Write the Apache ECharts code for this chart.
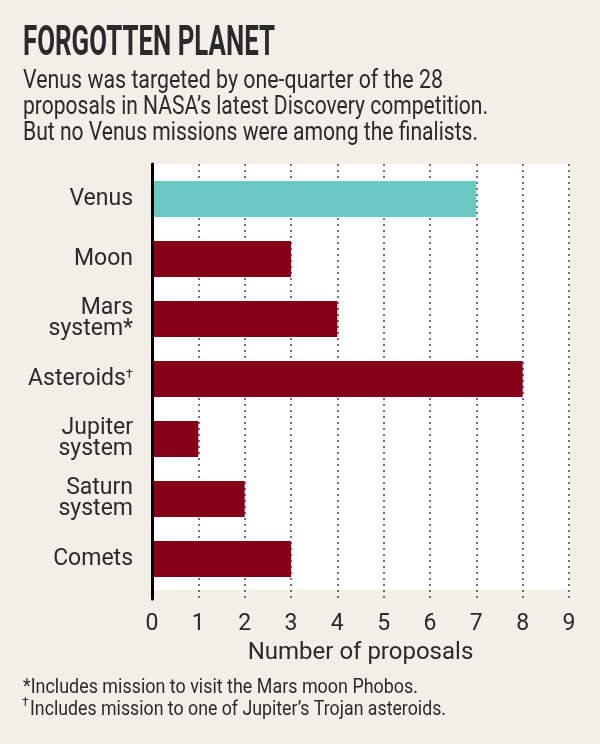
<!DOCTYPE html>
<html>
<head>
<meta charset="utf-8">
<script src="https://cdn.jsdelivr.net/npm/echarts@6/dist/echarts.min.js"></script>
<style>
    html, body { margin: 0; padding: 0; background: #f2efe8; }
    #chart { width: 600px; height: 744px; }
</style>
</head>
<body>
<div id="chart"></div>
<script>
const categories = ['Venus', 'Moon', 'Mars\nsystem*', 'Asteroids†', 'Jupiter\nsystem', 'Saturn\nsystem', 'Comets'];
const proposals = [7, 3, 4, 8, 1, 2, 3];
const xTicks = [0, 1, 2, 3, 4, 5, 6, 7, 8, 9];
const highlighted = 'Venus';

const TEAL = '#6bc7c2';
const RED = '#850019';
const TEXT = '#2a2a2a';

const chart = echarts.init(document.getElementById('chart'));

// squeeze a text line horizontally so it spans `width` px (the original uses a condensed face)
const ctx = document.createElement('canvas').getContext('2d');
function label(text, x, y, font, width) {
    ctx.font = font;
    const scaleX = width ? width / ctx.measureText(text).width : 1;
    return {
        type: 'text',
        x: x,
        y: y,
        scaleX: scaleX,
        style: {
            text: text,
            font: font,
            fill: TEXT,
            textAlign: 'left',
            textVerticalAlign: 'middle',
            align: 'left',
            verticalAlign: 'middle',
        },
    };
}

chart.setOption({
    backgroundColor: '#f2efe8',
    animation: false,
    graphic: [
        // white plot panel
        {
            type: 'rect',
            z: -100,
            shape: { x: 153, y: 164, width: 417, height: 426 },
            style: { fill: '#ffffff' },
        },
        label('FORGOTTEN PLANET', 23, 44, 'bold 42px Roboto', 252),
        label('Venus was targeted by one-quarter of the 28', 23, 81, '26px Roboto', 420),
        label('proposals in NASA\u2019s latest Discovery competition.', 23, 107, '26px Roboto', 465),
        label('But no Venus missions were among the finalists.', 23, 133, '26px Roboto', 455),
        label('*Includes mission to visit the Mars moon Phobos.', 23, 688, '21px Roboto', 395),
        label('\u2020', 22, 703, '12px Roboto'),
        label('Includes mission to one of Jupiter\u2019s Trojan asteroids.', 30, 710, '21px Roboto', 416),
    ],
    grid: [
        { left: 152, top: 169, width: 417, height: 420 },
        { left: 152, top: 164, width: 417, height: 435 },
    ],
    xAxis: [
        { gridIndex: 0, type: 'value', min: xTicks[0], max: xTicks[xTicks.length - 1], show: false },
        {
            gridIndex: 1,
            type: 'value',
            min: xTicks[0],
            max: xTicks[xTicks.length - 1],
            interval: 1,
            axisLine: { show: false },
            axisTick: { show: false },
            splitLine: { lineStyle: { type: [2, 4], color: '#444', width: 1.5 } },
            axisLabel: { margin: 14, fontSize: 23, fontFamily: 'Roboto', color: TEXT },
            name: 'Number of proposals',
            nameLocation: 'middle',
            nameGap: 38,
            nameTextStyle: { fontSize: 24, fontFamily: 'Roboto', color: TEXT },
        },
    ],
    yAxis: [
        {
            gridIndex: 0,
            type: 'category',
            inverse: true,
            data: categories,
            axisLine: { show: false },
            axisTick: { alignWithLabel: true, length: 10, lineStyle: { color: '#333', width: 1.5 } },
            axisLabel: {
                margin: 19,
                fontSize: 23,
                lineHeight: 21,
                fontFamily: 'Roboto',
                color: TEXT,
                align: 'right',
                formatter: v => v.replace('†', '{sup|†}'),
                rich: { sup: { fontSize: 13, verticalAlign: 'top', color: TEXT, fontFamily: 'Roboto' } },
            },
        },
        {
            gridIndex: 1,
            type: 'value',
            min: 0,
            max: 1,
            z: 5,
            axisLine: { show: true, lineStyle: { color: '#000', width: 3 } },
            axisTick: { show: false },
            axisLabel: { show: false },
            splitLine: { show: false },
        },
    ],
    series: [
        {
            type: 'bar',
            xAxisIndex: 0,
            yAxisIndex: 0,
            barWidth: 36,
            data: proposals.map((v, i) => ({
                value: v,
                itemStyle: { color: categories[i] === highlighted ? TEAL : RED },
            })),
        },
    ],
});
</script>
</body>
</html>
